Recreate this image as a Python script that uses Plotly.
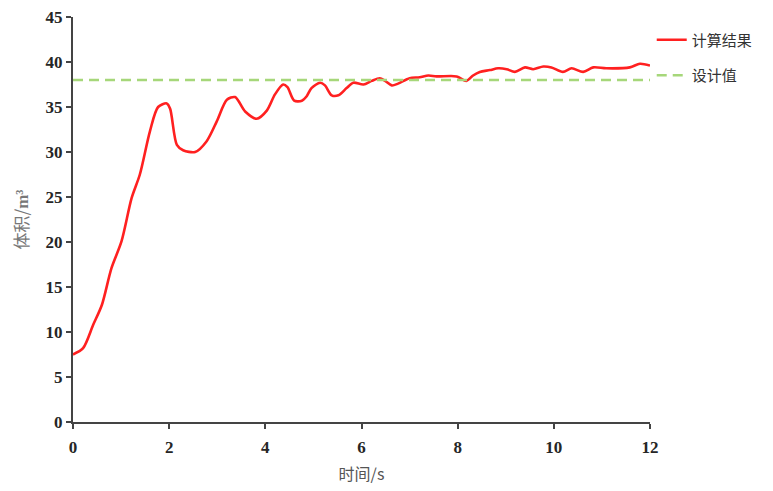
import plotly.graph_objects as go

time_s = [0.0, 0.21, 0.42, 0.6, 0.8, 1.01, 1.22, 1.39, 1.6, 1.77, 1.95, 2.02, 2.16, 2.29, 2.54, 2.78,
          2.99, 3.2, 3.37, 3.58, 3.82, 4.03, 4.2, 4.37, 4.46, 4.6, 4.76, 4.86, 4.96, 5.14, 5.24,
          5.38, 5.52, 5.69, 5.83, 6.04, 6.21, 6.38, 6.49, 6.63, 6.76, 7.0, 7.21, 7.39, 7.56,
          7.98, 8.18, 8.32, 8.46, 8.67, 8.84, 9.02, 9.19, 9.4, 9.57, 9.78, 9.95, 10.19, 10.37,
          10.61, 10.82, 11.09, 11.58, 11.79, 12.0]
volume = [7.5, 8.2, 10.8, 13.0, 17.1, 20.1, 24.9, 27.5, 32.3, 35.0, 35.4, 34.8, 30.8, 30.2, 30.0, 31.2,
          33.4, 35.8, 36.1, 34.5, 33.7, 34.6, 36.4, 37.5, 37.2, 35.7, 35.7, 36.2, 37.1, 37.7, 37.4,
          36.3, 36.3, 37.1, 37.7, 37.5, 37.9, 38.2, 37.9, 37.4, 37.6, 38.2, 38.3, 38.5, 38.4,
          38.4, 37.9, 38.5, 38.9, 39.1, 39.3, 39.2, 38.9, 39.4, 39.2, 39.5, 39.4, 38.9, 39.3,
          38.9, 39.4, 39.3, 39.4, 39.8, 39.6]
design_x = [0, 12]
design_value = [38, 38]

x_ticks = [0, 2, 4, 6, 8, 10, 12]
y_ticks = [0, 5, 10, 15, 20, 25, 30, 35, 40, 45]

fig = go.Figure()
fig.add_trace(go.Scatter(x=time_s, y=volume, mode="lines", name="计算结果",
                         line=dict(color="#ff2020", width=2.6, shape="spline", smoothing=0.8),
                         legendgroup="a"))
fig.add_trace(go.Scatter(x=design_x, y=design_value, mode="lines", name="设计值",
                         line=dict(color="#a6d77a", width=2.4, dash="10px,6px"),
                         legendgroup="b"))

tickfont = dict(family="Liberation Serif", size=17, color="#262626")
fig.update_layout(
    width=765, height=483,
    margin=dict(l=65, r=123, t=9, b=69),
    plot_bgcolor="white", paper_bgcolor="white",
    showlegend=True,
    legend=dict(x=1.003, y=0.984, xanchor="left", yanchor="top",
                font=dict(family="Noto Sans CJK SC", size=15, color="#333333"),
                tracegroupgap=13, itemwidth=30, bgcolor="rgba(0,0,0,0)"),
    xaxis=dict(range=[0, 12], tickvals=x_ticks, ticktext=["<b>%d</b>" % v for v in x_ticks],
               showgrid=False, zeroline=False, showline=True, linecolor="#444444", linewidth=2,
               ticks="outside", ticklen=5, tickwidth=2, tickcolor="#444444",
               tickfont=tickfont, automargin=False, ticklabelstandoff=4,
               ticklabeloverflow="allow",
               title=dict(text="时间/s", font=dict(family="Noto Sans CJK SC", size=16, color="#555555"),
                          standoff=12)),
    yaxis=dict(range=[0, 45], tickvals=y_ticks, ticktext=["<b>%d</b>" % v for v in y_ticks],
               showgrid=False, zeroline=False, showline=True, linecolor="#444444", linewidth=2,
               ticks="outside", ticklen=5, tickwidth=2, tickcolor="#444444",
               tickfont=tickfont, automargin=False, ticklabeloverflow="allow",
               title=dict(text="体积/<span style='font-family:Liberation Serif'><b>m³</b></span>",
                          font=dict(family="Noto Sans CJK SC", size=17, color="#777777"),
                          standoff=20)),
)
fig.write_html("out.html")
